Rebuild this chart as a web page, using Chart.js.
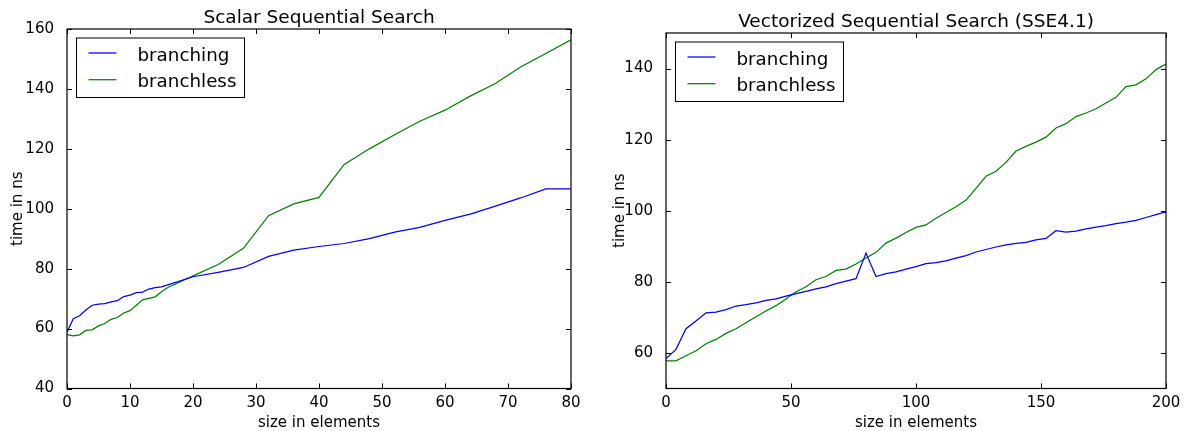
<!DOCTYPE html>
<html>
<head>
<meta charset="utf-8">
<script src="https://cdn.jsdelivr.net/npm/chart.js@4"></script>
<style>
  html, body { margin: 0; padding: 0; background: #fff; }
  .box { position: absolute; top: 0; width: 593px; height: 431px; }
</style>
</head>
<body>
<div class="box" style="left:0"><canvas id="scalar"></canvas></div>
<div class="box" style="left:593px"><canvas id="vector"></canvas></div>
<script>
// data
const scalarSizes = [0,1,2,3,4,5,6,7,8,9,10,11,12,13,14,15,16,20,24,28,32,36,40,44,48,52,56,60,64,68,72,76,80];
const scalarBranching = [58.8,63.3,64.3,66.2,67.8,68.2,68.3,68.9,69.3,70.7,71.2,72.0,72.2,73.2,73.7,73.9,74.6,
                         77.3,78.8,80.4,84.1,86.2,87.4,88.4,90.0,92.2,93.8,96.1,98.2,100.9,103.6,106.6,106.6];
const scalarBranchless = [58.0,57.6,57.9,59.4,59.6,60.9,61.7,63.1,63.7,65.2,66.0,67.8,69.6,70.1,70.6,72.3,73.7,
                          77.6,81.4,86.8,97.7,101.6,103.8,114.8,120.0,124.7,129.2,132.9,137.6,141.8,147.3,151.8,156.4];

const vectorSizes = [0,4,8,12,16,20,24,28,32,36,40,44,48,52,56,60,64,68,72,76,80,84,88,92,96,100,
                     104,108,112,116,120,124,128,132,136,140,144,148,152,156,160,164,168,172,176,180,184,188,192,196,200];
const vectorBranching = [58.4,61.0,66.8,69.0,71.3,71.5,72.2,73.2,73.6,74.1,
                         74.8,75.2,76.0,76.7,77.3,78.0,78.6,79.5,80.2,80.9,
                         88.1,81.5,82.3,82.8,83.6,84.3,85.1,85.4,85.9,86.7,
                         87.4,88.4,89.1,89.8,90.4,90.8,91.1,91.8,92.2,94.4,
                         94.0,94.3,94.9,95.4,95.8,96.4,96.8,97.3,98.1,98.9,99.7];
const vectorBranchless = [57.8,57.8,59.2,60.6,62.6,63.8,65.5,66.8,68.5,70.2,
                          71.8,73.3,75.2,77.2,78.6,80.6,81.5,83.2,83.6,85.0,
                          86.7,88.3,90.9,92.3,93.9,95.3,96.0,97.9,99.5,101.1,
                          103.0,106.3,109.7,111.1,113.6,116.8,118.1,119.3,120.7,123.3,
                          124.5,126.5,127.5,128.7,130.3,131.9,134.9,135.4,137.1,139.7,141.3];

const scalarXTicks = [0,10,20,30,40,50,60,70,80];
const scalarYTicks = [40,60,80,100,120,140,160];
const vectorXTicks = [0,50,100,150,200];
const vectorYTicks = [60,80,100,120,140];

const FONT = 'DejaVu Sans';

function pts(xs, ys) {
    return xs.map((x, i) => ({x: x, y: ys[i]}));
}

// frame, inward ticks, title and legend, matplotlib classic look
const mplLook = {
    id: 'mplLook',
    afterDraw(chart, args, opts) {
        const ctx = chart.ctx;
        const a = chart.chartArea;
        const xs = chart.scales.x, ys = chart.scales.y;
        ctx.save();
        ctx.strokeStyle = '#000';
        ctx.lineWidth = 1;
        // ticks
        ctx.beginPath();
        for (let t of xs.ticks) {
            const px = Math.round(xs.getPixelForValue(t.value)) + 0.5;
            ctx.moveTo(px, a.bottom); ctx.lineTo(px, a.bottom - 5);
            ctx.moveTo(px, a.top); ctx.lineTo(px, a.top + 5);
        }
        for (let t of ys.ticks) {
            const py = Math.round(ys.getPixelForValue(t.value)) + 0.5;
            ctx.moveTo(a.left, py); ctx.lineTo(a.left + 5, py);
            ctx.moveTo(a.right, py); ctx.lineTo(a.right - 5, py);
        }
        ctx.stroke();
        // frame
        ctx.lineWidth = 1.2;
        ctx.strokeRect(a.left, a.top, a.right - a.left, a.bottom - a.top);

        // title
        ctx.fillStyle = '#000';
        ctx.font = '18.5px "' + FONT + '"';
        ctx.textAlign = 'center';
        ctx.textBaseline = 'alphabetic';
        ctx.fillText(opts.title, (a.left + a.right) / 2, a.top - 6);

        // legend
        const bx = a.left + 9.5, by = a.top + 9;
        ctx.fillStyle = '#fff';
        ctx.fillRect(bx, by, 168, 59.5);
        ctx.lineWidth = 1;
        ctx.strokeRect(bx, by, 168, 59.5);
        ctx.font = '18.3px "' + FONT + '"';
        ctx.textAlign = 'left';
        chart.data.datasets.forEach((ds, i) => {
            const ly = by + 15 + i * 26.7;
            ctx.strokeStyle = ds.borderColor;
            ctx.lineWidth = 1.25;
            ctx.beginPath();
            ctx.moveTo(bx + 12, ly); ctx.lineTo(bx + 40, ly);
            ctx.stroke();
            ctx.fillStyle = '#000';
            ctx.fillText(ds.label, bx + 61, by + 22.5 + i * 26.3);
        });
        ctx.restore();
    }
};

function makeChart(id, cfg) {
    return new Chart(document.getElementById(id), {
        type: 'line',
        data: {
            datasets: [
                { label: 'branching', data: pts(cfg.sizes, cfg.branching), borderColor: '#0000ff',
                  borderWidth: 1.25, pointRadius: 0, tension: 0, fill: false },
                { label: 'branchless', data: pts(cfg.sizes, cfg.branchless), borderColor: '#008000',
                  borderWidth: 1.25, pointRadius: 0, tension: 0, fill: false }
            ]
        },
        options: {
            responsive: true,
            maintainAspectRatio: false,
            animation: false,
            layout: { padding: { top: cfg.top, right: cfg.right, left: 0, bottom: 0 } },
            plugins: {
                legend: { display: false },
                title: { display: false },
                tooltip: { enabled: false },
                mplLook: { title: cfg.title }
            },
            scales: {
                x: {
                    type: 'linear',
                    min: cfg.xTicks[0],
                    max: cfg.xTicks[cfg.xTicks.length - 1],
                    grid: { display: false },
                    border: { display: false },
                    afterBuildTicks: s => { s.ticks = cfg.xTicks.map(v => ({value: v})); },
                    afterFit: s => { s.height = 42.5; },
                    ticks: { color: '#000', font: { family: FONT, size: 15 }, padding: -2, maxRotation: 0 },
                    title: { display: true, text: 'size in elements', color: '#000',
                             font: { family: FONT, size: 15 }, padding: { top: 0, bottom: -1 } }
                },
                y: {
                    type: 'linear',
                    min: cfg.yMin,
                    max: cfg.yMax,
                    grid: { display: false },
                    border: { display: false },
                    afterBuildTicks: s => { s.ticks = cfg.yTicks.map(v => ({value: v})); },
                    afterFit: s => { s.width = cfg.yWidth; },
                    ticks: { color: '#000', font: { family: FONT, size: 15 }, padding: 5 },
                    title: { display: true, text: 'time in ns', color: '#000',
                             font: { family: FONT, size: 15 }, padding: { top: cfg.yTitlePad, bottom: 0 } }
                }
            }
        },
        plugins: [mplLook]
    });
}

makeChart('scalar', {
    title: 'Scalar Sequential Search',
    sizes: scalarSizes, branching: scalarBranching, branchless: scalarBranchless,
    xTicks: scalarXTicks, yTicks: scalarYTicks, yMin: 40, yMax: 160,
    top: 29, right: 22, yWidth: 67, yTitlePad: 9
});

makeChart('vector', {
    title: 'Vectorized Sequential Search (SSE4.1)',
    sizes: vectorSizes, branching: vectorBranching, branchless: vectorBranchless,
    xTicks: vectorXTicks, yTicks: vectorYTicks, yMin: 50, yMax: 150,
    top: 33, right: 20, yWidth: 73, yTitlePad: 18
});
</script>
</body>
</html>
